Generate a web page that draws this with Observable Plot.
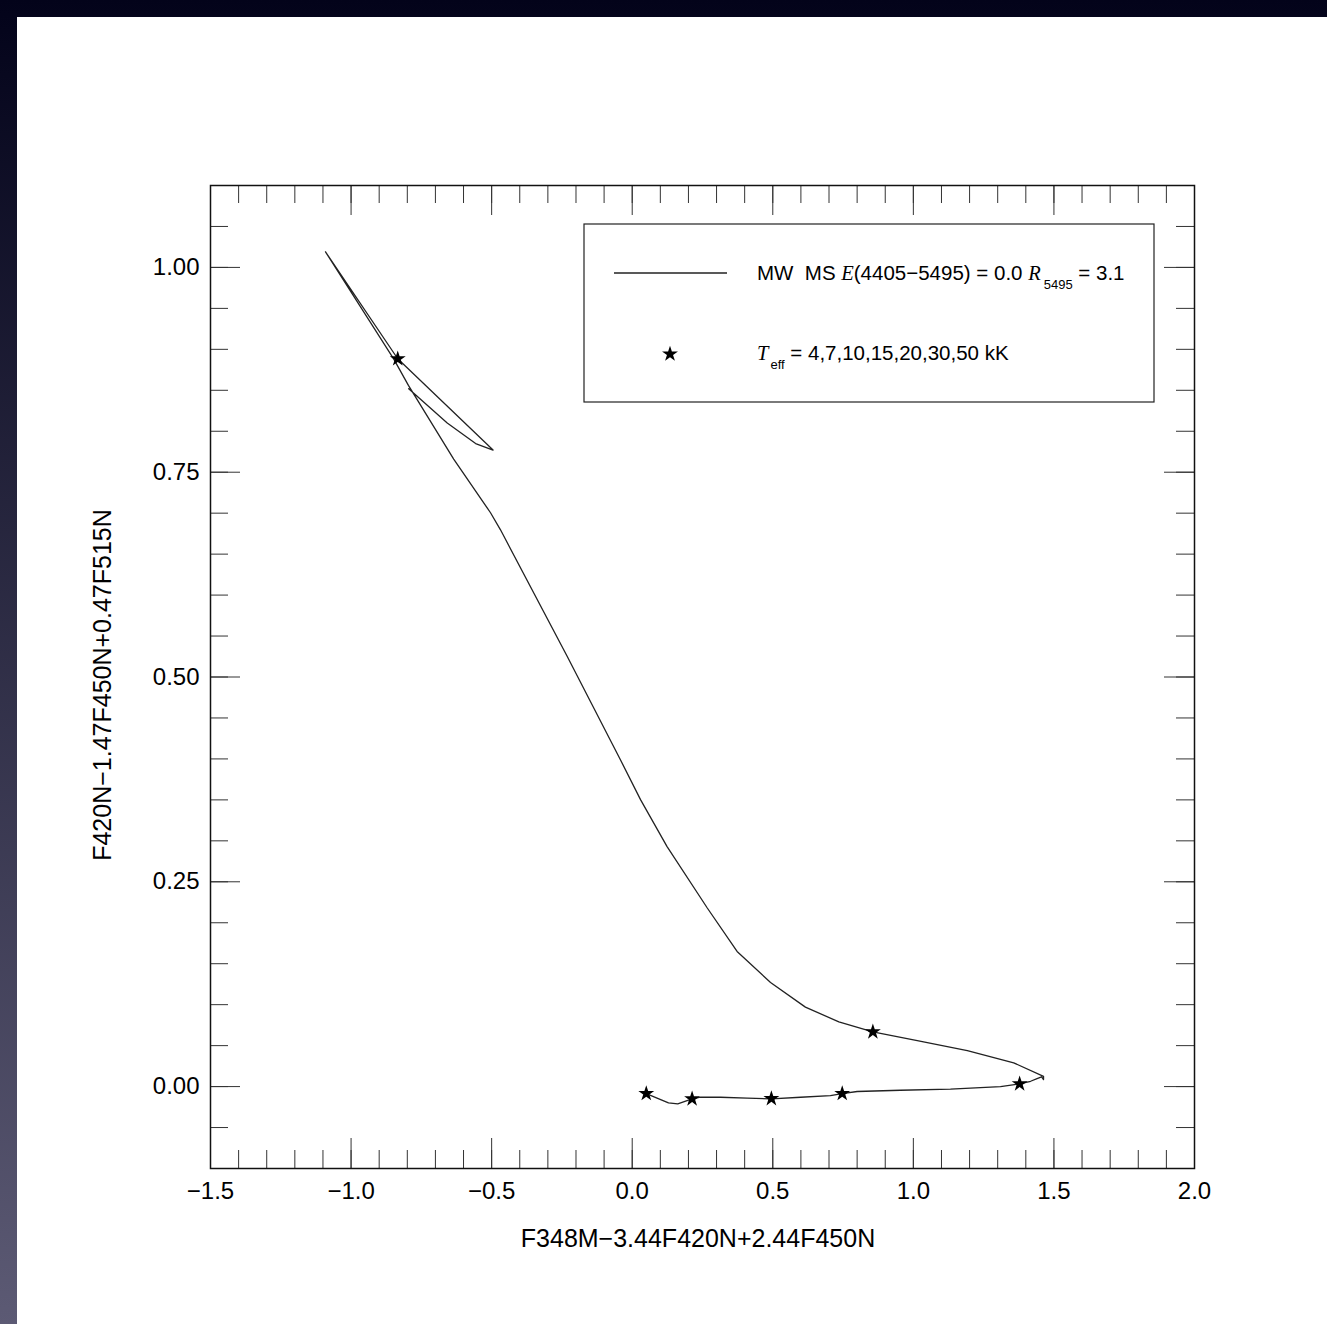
<!DOCTYPE html>
<html><head><meta charset="utf-8">
<script src="https://cdn.jsdelivr.net/npm/d3@7"></script>
<script src="https://cdn.jsdelivr.net/npm/@observablehq/plot@0.6"></script>
<style>
html,body{margin:0;padding:0;}
body{width:1327px;height:1324px;background:linear-gradient(#03031a,#5c5a74);overflow:hidden;position:relative}
#chart{position:absolute;left:17px;top:17px;width:1310px;height:1307px;background:#fff}
svg text{font-family:"Liberation Sans",Arial,sans-serif}
</style></head><body><div id="chart"></div>
<script>
// Main-sequence track (from hot end to cool end)
const trackX = [0.050, 0.129, 0.162, 0.213, 0.243, 0.314, 0.409, 0.495, 0.599, 0.705, 0.747, 0.800, 0.954, 1.132, 1.310, 1.378, 1.417, 1.440, 1.456, 1.463, 1.463, 1.357, 1.192, 1.014, 0.856, 0.735, 0.616, 0.492, 0.373, 0.267, 0.124, 0.030, -0.042, -0.231, -0.469, -0.504, -0.635, -0.796, -0.848, -1.091, -0.834, -0.495, -0.557, -0.658, -0.795];
const trackY = [-0.0085, -0.020, -0.021, -0.015, -0.013, -0.013, -0.014, -0.015, -0.013, -0.011, -0.0085, -0.006, -0.0045, -0.003, 0.000, 0.0033, 0.0065, 0.0098, 0.0118, 0.0085, 0.0125, 0.029, 0.044, 0.056, 0.0668, 0.079, 0.097, 0.127, 0.165, 0.218, 0.293, 0.350, 0.399, 0.525, 0.680, 0.7005, 0.766, 0.856, 0.888, 1.019, 0.8885, 0.777, 0.785, 0.810, 0.852];
// Teff markers (kK)
const starTeff = [50, 30, 20, 15, 10, 7, 4];
const starX = [0.050, 0.213, 0.495, 0.747, 1.378, 0.856, -0.834];
const starY = [-0.0085, -0.015, -0.0147, -0.0085, 0.0033, 0.0668, 0.8885];
// Axis ticks
const xTicks = [-1.5, -1.0, -0.5, 0.0, 0.5, 1.0, 1.5, 2.0];
const xTickLabels = ["−1.5", "−1.0", "−0.5", "0.0", "0.5", "1.0", "1.5", "2.0"];
const yTicks = [0.00, 0.25, 0.50, 0.75, 1.00];
const yTickLabels = ["0.00", "0.25", "0.50", "0.75", "1.00"];
const xMinorStep = 0.1, yMinorStep = 0.05;
const xTitle = "F348M−3.44F420N+2.44F450N";
const yTitle = "F420N−1.47F450N+0.47F515N";

const W = 1310, H = 1307, ML = 193, MR = 133, MT = 168, MB = 156;
const innerW = W - ML - MR, innerH = H - MT - MB;
const xMinor = d3.range(0, 36).map(i => Math.round((-1.5 + i * xMinorStep) * 100) / 100);
const yMinor = d3.range(0, 25).map(i => Math.round((-0.1 + i * yMinorStep) * 100) / 100);
const lab = (ticks, labels) => d => labels[ticks.findIndex(t => Math.abs(t - d) < 1e-9)];

const track = trackX.map((x, i) => ({x, y: trackY[i]}));
const stars = starX.map((x, i) => ({x, y: starY[i], t: starTeff[i]}));
const tickStroke = "#333";

const plot = Plot.plot({
  width: W, height: H, marginLeft: ML, marginRight: MR, marginTop: MT, marginBottom: MB,
  style: {background: "#fff", fontFamily: "Liberation Sans, Arial, sans-serif", fontSize: "24px", color: "#000"},
  x: {domain: [-1.5, 2.0]},
  y: {domain: [-0.1, 1.1]},
  marks: [
    Plot.tickX(xMinor, {x: d => d, insetTop: innerH - 18, stroke: tickStroke}),
    Plot.tickX(xMinor, {x: d => d, insetBottom: innerH - 18, stroke: tickStroke}),
    Plot.tickX(xTicks, {x: d => d, insetTop: innerH - 30, stroke: tickStroke}),
    Plot.tickX(xTicks, {x: d => d, insetBottom: innerH - 30, stroke: tickStroke}),
    Plot.tickY(yMinor, {y: d => d, insetRight: innerW - 18, stroke: tickStroke}),
    Plot.tickY(yMinor, {y: d => d, insetLeft: innerW - 18, stroke: tickStroke}),
    Plot.tickY(yTicks, {y: d => d, insetRight: innerW - 30, stroke: tickStroke}),
    Plot.tickY(yTicks, {y: d => d, insetLeft: innerW - 30, stroke: tickStroke}),
    Plot.frame({stroke: "#111", strokeWidth: 1.5}),
    Plot.axisX({ticks: xTicks, tickSize: 0, tickPadding: 13, tickFormat: lab(xTicks, xTickLabels), label: null, fontSize: 24}),
    Plot.axisY({ticks: yTicks, tickSize: 0, tickPadding: 11, tickFormat: lab(yTicks, yTickLabels), label: null, fontSize: 24}),
    Plot.line(track, {x: "x", y: "y", stroke: "#222", strokeWidth: 1.3}),
    Plot.dot(stars, {x: "x", y: "y", symbol: "star", fill: "#000", stroke: "none", r: 5})
  ]
});
document.getElementById("chart").appendChild(plot);

const svg = d3.select(plot);
const ff = "Liberation Sans, Arial, sans-serif";
// axis titles
svg.append("text").attr("x", ML + innerW / 2 - 4).attr("y", 1230).attr("text-anchor", "middle")
  .attr("font-family", ff).attr("font-size", 25).attr("fill", "#000").text(xTitle);
svg.append("text").attr("transform", "translate(94,668) rotate(-90)").attr("text-anchor", "middle")
  .attr("font-family", ff).attr("font-size", 25).attr("fill", "#000").text(yTitle);

// legend
const g = svg.append("g").attr("font-family", ff).attr("font-size", 20.5).attr("fill", "#000").attr("text-anchor", "start");
g.append("rect").attr("x", 567).attr("y", 207).attr("width", 570).attr("height", 178)
  .attr("fill", "none").attr("stroke", "#222").attr("stroke-width", 1.2);
g.append("line").attr("x1", 597).attr("x2", 710).attr("y1", 256).attr("y2", 256)
  .attr("stroke", "#222").attr("stroke-width", 1.3);
const t1 = g.append("text").attr("x", 740).attr("y", 263).attr("text-anchor", "start").style("white-space", "pre");
t1.append("tspan").text("MW  MS ");
t1.append("tspan").attr("font-family", "Liberation Serif, Times New Roman, serif").attr("font-style", "italic").text("E");
t1.append("tspan").text("(4405−5495) = 0.0 ");
t1.append("tspan").attr("font-family", "Liberation Serif, Times New Roman, serif").attr("font-style", "italic").text("R");
t1.append("tspan").attr("font-size", 13).attr("dy", 9).attr("dx", 3).text("5495");
t1.append("tspan").attr("dy", -9).text(" = 3.1");
g.append("path").attr("d", d3.symbol(d3.symbolStar, Math.PI * 25)()).attr("transform", "translate(653,337)").attr("fill", "#000");
const t2 = g.append("text").attr("x", 740).attr("y", 343).attr("text-anchor", "start").style("white-space", "pre");
t2.append("tspan").attr("font-family", "Liberation Serif, Times New Roman, serif").attr("font-style", "italic").text("T");
t2.append("tspan").attr("font-size", 13).attr("dy", 9).attr("dx", 2).text("eff");
t2.append("tspan").attr("dy", -9).text(" = 4,7,10,15,20,30,50 kK");
</script></body></html>
